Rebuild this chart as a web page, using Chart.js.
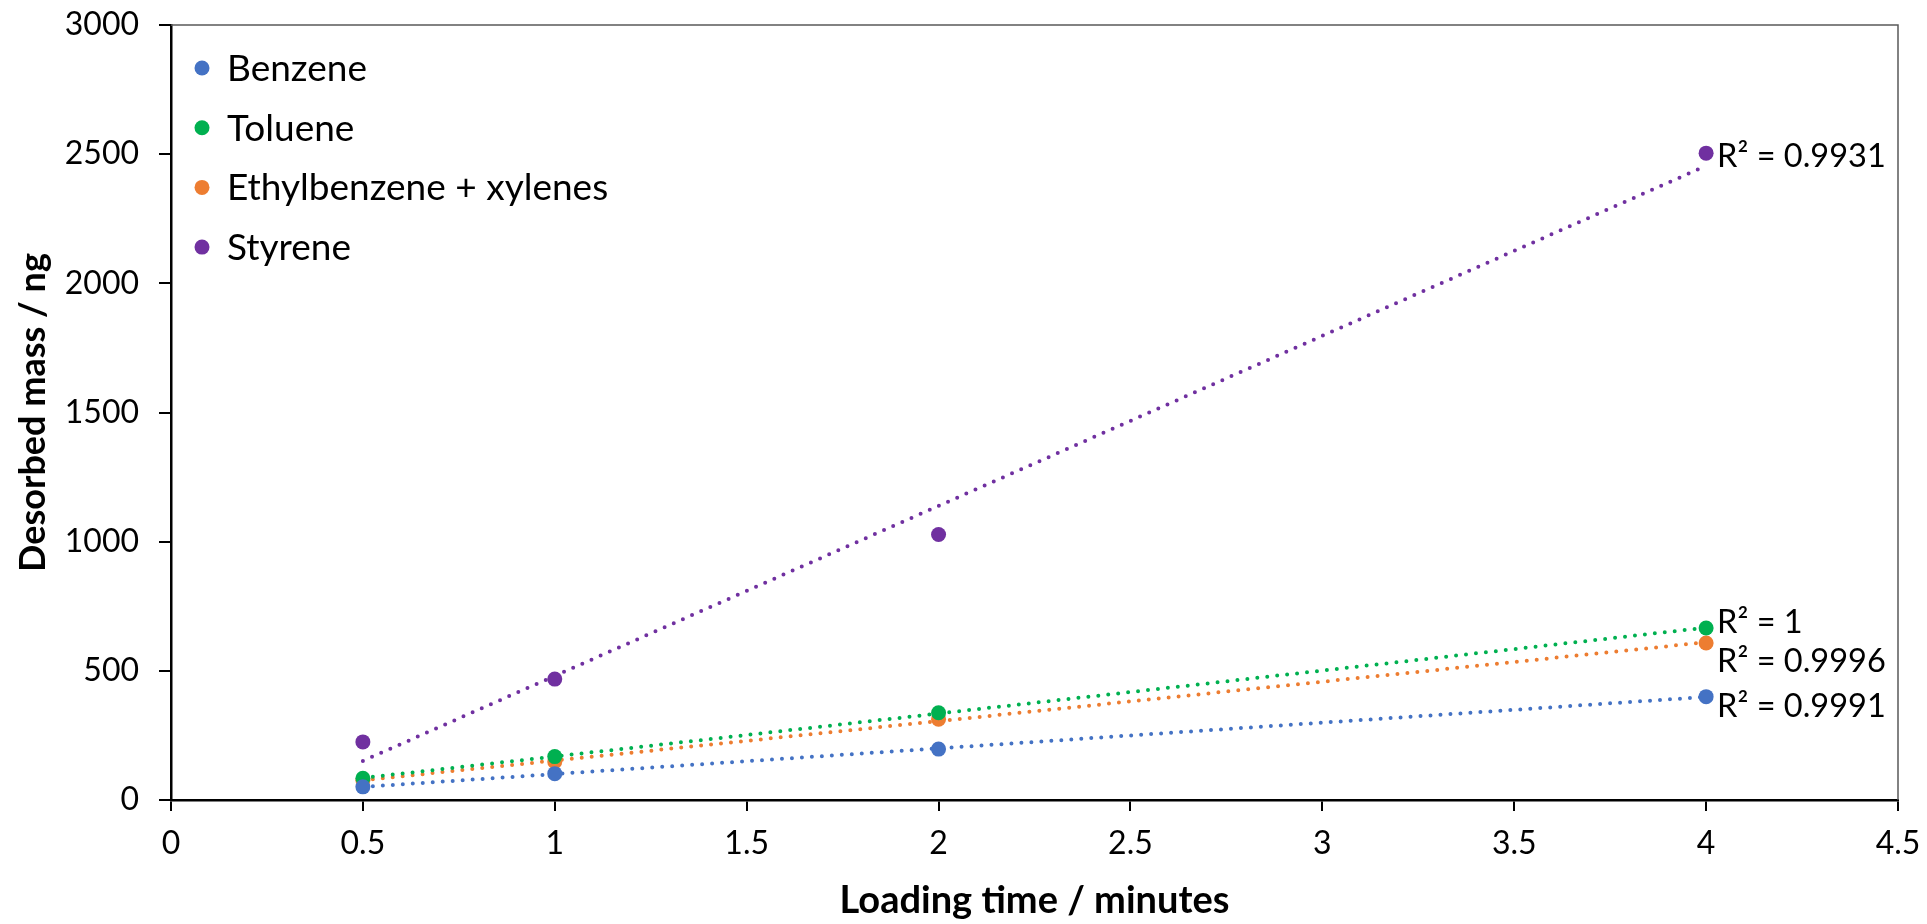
<!DOCTYPE html>
<html>
<head>
<meta charset="utf-8">
<script src="https://cdn.jsdelivr.net/npm/chart.js@4/dist/chart.umd.min.js"></script>
<style>
  html, body { margin: 0; padding: 0; background: #fff; }
  #wrap { width: 1927px; height: 924px; }
</style>
</head>
<body>
<div id="wrap"><canvas id="massChart" width="1927" height="924"></canvas></div>
<script>
// Loading time (minutes) and desorbed mass (ng) per compound
const loadingTimes = [0.5, 1, 2, 4];
const benzene = [51, 102, 197, 400];
const toluene = [84, 168, 338, 666];
const ethylXylenes = [76, 148, 313, 608];
const styrene = [225, 468, 1028, 2504];

const seriesNames = ['Benzene', 'Toluene', 'Ethylbenzene + xylenes', 'Styrene'];
const seriesColors = ['#4472C4', '#00B050', '#ED7D31', '#7030A0'];
const rSquared = ['0.9991', '1', '0.9996', '0.9931'];
// vertical nudge of each R² label from the end of its trendline
const labelOffsets = [10, -5, 19, 3];

const xTicks = [0, 0.5, 1, 1.5, 2, 2.5, 3, 3.5, 4, 4.5];
const yTicks = [0, 500, 1000, 1500, 2000, 2500, 3000];

const FONT = 'Lato, "Open Sans", sans-serif';
const allValues = [benzene, toluene, ethylXylenes, styrene];

// least squares fit y = a + b x
function linearFit(xs, ys) {
  const n = xs.length;
  const mx = xs.reduce((s, v) => s + v, 0) / n;
  const my = ys.reduce((s, v) => s + v, 0) / n;
  let sxy = 0, sxx = 0;
  xs.forEach((x, i) => { sxy += (x - mx) * (ys[i] - my); sxx += (x - mx) * (x - mx); });
  const b = sxy / sxx;
  return { a: my - b * mx, b: b };
}

const datasets = [];
allValues.forEach((vals, i) => {
  datasets.push({
    label: seriesNames[i],
    data: loadingTimes.map((x, j) => ({ x: x, y: vals[j] })),
    backgroundColor: seriesColors[i],
    borderColor: seriesColors[i],
    pointRadius: 7.5,
    pointHoverRadius: 7.5,
    pointBorderWidth: 0,
    showLine: false,
    order: 0
  });
});
allValues.forEach((vals, i) => {
  const fit = linearFit(loadingTimes, vals);
  const x0 = loadingTimes[0], x1 = loadingTimes[loadingTimes.length - 1];
  datasets.push({
    label: seriesNames[i] + ' trend',
    isTrend: true,
    data: [{ x: x0, y: fit.a + fit.b * x0 }, { x: x1, y: fit.a + fit.b * x1 }],
    borderColor: seriesColors[i],
    borderWidth: 4,
    borderDash: [0, 10],
    borderCapStyle: 'round',
    pointRadius: 0,
    showLine: true,
    fill: false,
    order: 1
  });
});

// thin frame on the top and right of the plot area
const plotFrame = {
  id: 'plotFrame',
  beforeDatasetsDraw(chart) {
    const { ctx, chartArea: a } = chart;
    ctx.save();
    ctx.strokeStyle = '#595959';
    ctx.lineWidth = 1.5;
    ctx.beginPath();
    ctx.moveTo(a.left, a.top);
    ctx.lineTo(a.right, a.top);
    ctx.lineTo(a.right, a.bottom);
    ctx.stroke();
    ctx.restore();
  }
};

// legend in the upper left corner of the plot
const innerLegend = {
  id: 'innerLegend',
  afterDraw(chart) {
    const { ctx, chartArea: a } = chart;
    ctx.save();
    ctx.font = '37px ' + FONT;
    ctx.textBaseline = 'middle';
    seriesNames.forEach((name, i) => {
      const y = a.top + 43 + i * 59.7;
      ctx.fillStyle = seriesColors[i];
      ctx.beginPath();
      ctx.arc(a.left + 31, y, 7.5, 0, Math.PI * 2);
      ctx.fill();
      ctx.fillStyle = '#000';
      ctx.fillText(name, a.left + 56, y + 1);
    });
    ctx.restore();
  }
};

// R² labels next to the end of each trendline
const rsqLabels = {
  id: 'rsqLabels',
  afterDatasetsDraw(chart) {
    const { ctx, scales } = chart;
    ctx.save();
    ctx.font = '32.5px ' + FONT;
    ctx.fillStyle = '#000';
    ctx.textBaseline = 'middle';
    chart.data.datasets.forEach((ds, i) => {
      if (!ds.isTrend) return;
      const k = i - seriesNames.length;
      const last = ds.data[ds.data.length - 1];
      const px = scales.x.getPixelForValue(last.x);
      const py = scales.y.getPixelForValue(allValues[k][allValues[k].length - 1]);
      ctx.fillText('R\u00B2 = ' + rSquared[k], px + 11, py + labelOffsets[k]);
    });
    ctx.restore();
  }
};

new Chart(document.getElementById('massChart'), {
  type: 'scatter',
  data: { datasets: datasets },
  options: {
    responsive: false,
    animation: false,
    layout: { padding: { top: 25, right: 29, left: 0, bottom: 0 } },
    plugins: {
      legend: { display: false },
      tooltip: { enabled: false }
    },
    scales: {
      x: {
        type: 'linear',
        min: 0,
        max: 4.5,
        afterBuildTicks(scale) { scale.ticks = xTicks.map(v => ({ value: v })); },
        afterFit(scale) {
          scale.height = 124;
          scale.paddingLeft = 0;
          scale.paddingRight = 0;
        },
        ticks: {
          color: '#000',
          font: { family: FONT, size: 32 },
          padding: 13,
          maxRotation: 0,
          callback: v => String(v)
        },
        grid: { drawOnChartArea: false, drawTicks: true, tickLength: 11, color: '#000', lineWidth: 2 },
        border: { display: true, color: '#000', width: 2.5 },
        title: {
          display: true,
          text: 'Loading time / minutes',
          color: '#000',
          font: { family: FONT, size: 38, weight: 'bold' },
          padding: { top: 0, bottom: 0 }
        }
      },
      y: {
        type: 'linear',
        min: 0,
        max: 3000,
        afterBuildTicks(scale) { scale.ticks = yTicks.map(v => ({ value: v })); },
        afterFit(scale) {
          scale.width = 171;
          scale.paddingTop = 0;
          scale.paddingBottom = 0;
        },
        ticks: {
          color: '#000',
          font: { family: FONT, size: 32 },
          padding: 20,
          callback: v => String(v)
        },
        grid: { drawOnChartArea: false, drawTicks: true, tickLength: 12, color: '#000', lineWidth: 2 },
        border: { display: true, color: '#000', width: 2.5 },
        title: {
          display: true,
          text: 'Desorbed mass / ng',
          color: '#000',
          font: { family: FONT, size: 36, weight: 'bold' },
          padding: { top: 12, bottom: 0 }
        }
      }
    }
  },
  plugins: [plotFrame, rsqLabels, innerLegend]
});
</script>
</body>
</html>
